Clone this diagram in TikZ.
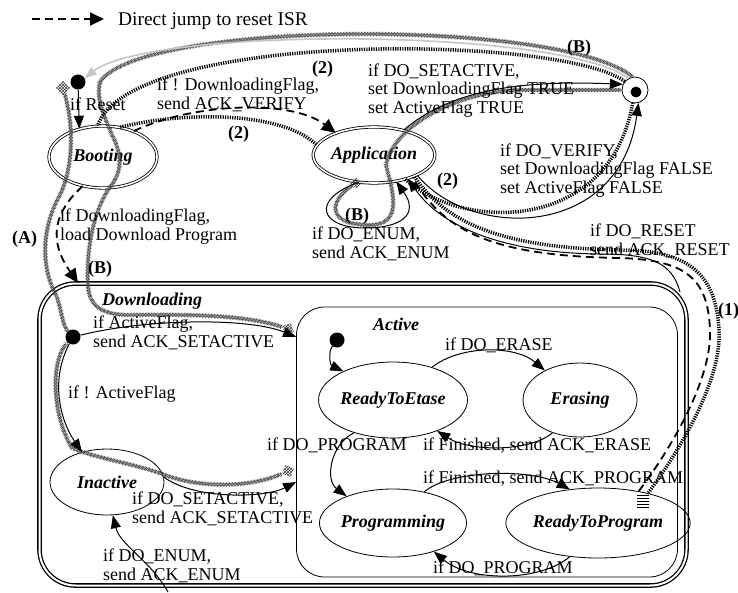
\documentclass[tikz,border=0pt]{standalone}
\usepackage{fontspec}
\setmainfont{Liberation Serif}
\usetikzlibrary{shapes.geometric,arrows.meta,decorations.pathmorphing,patterns}

\begin{document}
\begin{tikzpicture}[x=1pt,y=-1pt,
   every node/.style={font=\fontsize{18}{18.5}\selectfont},
   lbl/.style={anchor=base west,inner sep=0pt,align=left},
   pathno/.style={anchor=base west,inner sep=0pt,font=\fontsize{18}{18.5}\selectfont\bfseries},
   state/.style={ellipse,draw,line width=0.8pt,inner sep=0pt,font=\fontsize{18}{18.5}\selectfont\bfseries\itshape},
   dstate/.style={state,double,double distance=1.6pt},
   initial/.style={circle,fill,inner sep=0pt,minimum size=15pt},
   trans/.style={line width=1pt,-{Triangle[length=13pt,width=10pt]}},
   jump/.style={line width=1.8pt,dash pattern=on 8pt off 5pt},
   jumptip/.style={jump,-{Triangle[length=14pt,width=13pt]}},
   hatch/.style={line width=3.5pt,dash pattern=on 1.2pt off 1.2pt},
   xpath/.style={
     postaction={draw=gray!60!black,line width=0.5pt,decorate,
       decoration={zigzag,amplitude=1.8pt,segment length=3pt}},
     postaction={draw=gray!60!black,line width=0.5pt,decorate,
       decoration={zigzag,amplitude=1.8pt,segment length=3pt,mirror}}},
   checker/.style={rectangle,pattern=crosshatch,pattern color=black!80,inner sep=0pt,minimum size=10pt}]
   \useasboundingbox (0,0) rectangle (738,592);

   % legend
   \path (118,25) node[lbl,font=\fontsize{19.4}{20}\selectfont] (LegendText) {Direct jump to reset ISR};
   \coordinate (LegendStart) at (32,19);
   \draw[jumptip,shorten >=14pt] (LegendStart) -- (LegendText.west |- LegendStart);

   % top level states
   \path (78,82) node[initial] (BootInit) {};
   \path (103,157) node[dstate,minimum width=108pt,minimum height=62pt] (Booting) {Booting};
   \path (374,155) node[dstate,minimum width=104pt,minimum height=56pt] (Application) {Application};
   \path (635,90) node[circle,draw,line width=0.8pt,minimum size=26pt,inner sep=0pt] (Junction) {};
   \path (636,92) node[initial,minimum size=11pt] (JunctionDot) {};

   % super states
   \path (363,434.5) node[draw,double,line width=1.3pt,double distance=2pt,rounded corners=36pt,
      minimum width=647pt,minimum height=302pt] (Downloading) {};
   \path (487,442) node[draw,line width=0.8pt,rounded corners=28pt,
      minimum width=381pt,minimum height=270pt] (Active) {};
   \path (102,305) node[lbl,font=\fontsize{18}{18.5}\selectfont\bfseries\itshape] (DownloadingName) {Downloading};
   \path (373,330) node[lbl,font=\fontsize{18}{18.5}\selectfont\bfseries\itshape] (ActiveName) {Active};

   \path (73,337) node[initial] (DownInit) {};
   \path (107,482) node[state,minimum width=114pt,minimum height=66pt] (Inactive) {Inactive};
   \path (337,340) node[initial] (ActiveInit) {};
   \path (393,400) node[state,minimum width=130pt,minimum height=76pt] (ReadyToEtase) {ReadyToEtase};
   \path (580,400) node[state,minimum width=114pt,minimum height=74pt] (Erasing) {Erasing};
   \path (393,523) node[state,minimum width=130pt,minimum height=68pt] (Programming) {Programming};
   \path (598,523) node[state,minimum width=150pt,minimum height=70pt] (ReadyToProgram) {ReadyToProgram};

   % scenario marks
   \path (63,88) node[checker,rotate=45] (ACheck) {};
   \path (356,183) node[checker,rotate=45,minimum size=8pt] (AppCheck) {};
   \path (288,329) node[checker,rotate=20,minimum size=9pt] (BEnd) {};
   \path (288,471) node[checker,rotate=-20,minimum size=9pt] (AEnd) {};
   \path (643,500) node[rectangle,pattern=horizontal lines,inner sep=0pt,minimum width=12pt,minimum height=14pt] (HatchEnd) {};
   \coordinate (ResetOut) at (680,292);
   \coordinate (EnumIn) at (168,592);

   % scenario paths
   \path[xpath] (Junction.100) .. controls (560,18) and (140,20) .. (100,82)
      .. controls (96,100) and (104,115) .. (112,135) .. controls (125,160) and (120,175) .. (108,190)
      .. controls (92,215) and (86,255) .. (88,285) .. controls (89,305) and (100,315) .. (130,315)
      .. controls (200,314) and (250,316) .. (BEnd);
   \path[xpath] (ACheck) .. controls (75,130) and (72,170) .. (60,195)
      .. controls (40,230) and (42,270) .. (56,295) .. controls (62,310) and (62,325) .. (DownInit)
      .. controls (50,360) and (52,415) .. (72,448) .. controls (95,458) and (140,465) .. (165,475)
      .. controls (200,488) and (250,488) .. (AEnd);
   \path[xpath] (AppCheck) .. controls (330,200) and (325,224) .. (368,225)
      .. controls (405,226) and (392,190) .. (386,165) .. controls (392,130) and (450,92) .. (520,90)
      -- (Junction.west);
   \draw[gray!45,line width=1.6pt,-{Triangle[length=12pt,width=9pt]}] (Junction.120)
      .. controls (560,27) and (150,27) .. (BootInit.30);
   \draw[hatch] (Junction.140) .. controls (560,34) and (130,30) .. (Booting.100);
   \draw[hatch] (Booting.60) .. controls (180,112) and (280,110) .. (Application.170);
   \draw[hatch] (Application.-38) .. controls (465,232) and (610,232) .. (Junction.-100);
   \draw[hatch] (HatchEnd) .. controls (680,450) and (722,380) .. (719,330)
      .. controls (716,275) and (690,250) .. (620,250) .. controls (500,248) and (445,222) .. (Application.-28);

   % transitions
   \draw[trans] (BootInit) -- (Booting.130);
   \path (70,110) node[lbl] (ResetLbl) {if Reset};
   \draw[jumptip] (Booting.40) .. controls (190,104) and (290,98) .. (Application.150);
   \path (157,109) node[lbl] (VerifyLbl) {if ! DownloadingFlag,\\send ACK\_VERIFY};
   \draw[jumptip] (Booting.235) .. controls (45,220) and (55,250) .. (Downloading.north -| BootInit);
   \path (60,240) node[lbl] (LoadLbl) {if DownloadingFlag,\\load Download Program};
   \draw[trans] (Application.40) .. controls (450,90) and (520,80) .. (Junction.155);
   \path (368,113) node[lbl] (SetActLbl) {if DO\_SETACTIVE,\\set DownloadingFlag TRUE\\set ActiveFlag TRUE};
   \draw[trans] (Application.-25) .. controls (470,240) and (620,240) .. (Junction.-75);
   \path (500,193) node[lbl] (VerLbl) {if DO\_VERIFY,\\set DownloadingFlag FALSE\\set ActiveFlag FALSE};
   \draw[trans] (Application.-120) .. controls (310,200) and (320,228) .. (365,228)
      .. controls (400,228) and (420,215) .. (Application.-50);
   \path (312,258) node[lbl] (EnumLbl) {if DO\_ENUM,\\send ACK\_ENUM};
   \draw[trans] (ResetOut) .. controls (672,262) and (650,254) .. (600,254)
      .. controls (500,253) and (440,225) .. (Application.-35);
   \path (590,255) node[lbl] (ResetCmdLbl) {if DO\_RESET\\send ACK\_RESET};
   \draw[jump] (ReadyToProgram.38) .. controls (670,450) and (712,380) .. (710,330)
      .. controls (708,280) and (688,260) .. (620,258) .. controls (500,256) and (445,235) .. (Application.-30);

   \draw[trans] (DownInit) .. controls (150,318) and (250,318) .. (Active.west |- DownInit);
   \path (93,347) node[lbl] (ActFlagLbl) {if ActiveFlag,\\send ACK\_SETACTIVE};
   \draw[trans] (DownInit) .. controls (50,380) and (60,420) .. (Inactive.130);
   \path (68,398) node[lbl] (NotActLbl) {if ! ActiveFlag};
   \draw[trans] (Inactive.5) .. controls (195,500) and (265,498) .. (Active.west |- Inactive);
   \path (132,523) node[lbl] (InSetLbl) {if DO\_SETACTIVE,\\send ACK\_SETACTIVE};
   \draw[trans] (EnumIn) .. controls (150,560) and (120,545) .. (Inactive.-80);
   \path (103,580) node[lbl] (InEnumLbl) {if DO\_ENUM,\\send ACK\_ENUM};

   \draw[trans] (ActiveInit) .. controls (328,352) and (330,365) .. (ReadyToEtase.150);
   \draw[trans] (ReadyToEtase.40) .. controls (460,345) and (515,345) .. (Erasing.140);
   \path (445,350) node[lbl] (EraseLbl) {if DO\_ERASE};
   \draw[trans] (Erasing.-130) .. controls (530,452) and (470,452) .. (ReadyToEtase.-35);
   \path (423,450) node[lbl] (FinEraseLbl) {if Finished, send ACK\_ERASE};
   \draw[trans] (ReadyToEtase.-140) .. controls (330,445) and (325,480) .. (Programming.150);
   \path (267,450) node[lbl] (ProgLbl) {if DO\_PROGRAM};
   \draw[trans] (Programming.45) .. controls (450,470) and (530,468) .. (ReadyToProgram.130);
   \path (423,483) node[lbl] (FinProgLbl) {if Finished, send ACK\_PROGRAM};
   \draw[trans] (ReadyToProgram.-130) .. controls (540,582) and (470,582) .. (Programming.-35);
   \path (433,573) node[lbl] (ProgAgainLbl) {if DO\_PROGRAM};

   % scenario names
   \path (12,243) node[pathno] (PathA) {(A)};
   \path (88,273) node[pathno] (PathB1) {(B)};
   \path (567,52) node[pathno] (PathB2) {(B)};
   \path (345,220) node[pathno] (PathB3) {(B)};
   \path (312,73) node[pathno] (Path2a) {(2)};
   \path (228,138) node[pathno] (Path2b) {(2)};
   \path (437,185) node[pathno] (Path2c) {(2)};
   \path (718,315) node[pathno] (Path1) {(1)};
\end{tikzpicture}
\end{document}
